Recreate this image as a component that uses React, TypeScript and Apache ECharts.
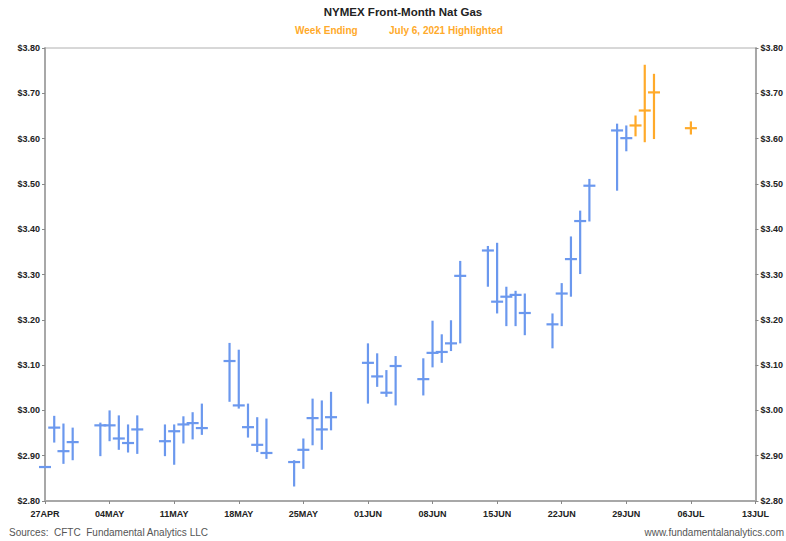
import React, { useEffect, useRef } from "react";
import * as echarts from "echarts";

const startDate = "2021-04-27";
const tickLabels = ["27APR", "04MAY", "11MAY", "18MAY", "25MAY", "01JUN", "08JUN", "15JUN", "22JUN", "29JUN", "06JUL", "13JUL"];
const yTicks = [2.8, 2.9, 3.0, 3.1, 3.2, 3.3, 3.4, 3.5, 3.6, 3.7, 3.8];

const dates = [
  "2021-04-27", "2021-04-28", "2021-04-29", "2021-04-30",
  "2021-05-03", "2021-05-04", "2021-05-05", "2021-05-06", "2021-05-07",
  "2021-05-10", "2021-05-11", "2021-05-12", "2021-05-13", "2021-05-14",
  "2021-05-17", "2021-05-18", "2021-05-19", "2021-05-20", "2021-05-21",
  "2021-05-24", "2021-05-25", "2021-05-26", "2021-05-27", "2021-05-28",
  "2021-06-01", "2021-06-02", "2021-06-03", "2021-06-04",
  "2021-06-07", "2021-06-08", "2021-06-09", "2021-06-10", "2021-06-11",
  "2021-06-14", "2021-06-15", "2021-06-16", "2021-06-17", "2021-06-18",
  "2021-06-21", "2021-06-22", "2021-06-23", "2021-06-24", "2021-06-25",
  "2021-06-28", "2021-06-29",
  "2021-06-30", "2021-07-01", "2021-07-02", "2021-07-06",
];
const highs = [
  2.875, 2.988, 2.971, 2.962,
  2.973, 3.0, 2.989, 2.969, 2.989,
  2.969, 2.969, 2.987, 2.996, 3.015,
  3.149, 3.134, 3.015, 2.985, 2.982,
  2.89, 2.938, 3.026, 3.022, 3.041,
  3.148, 3.126, 3.089, 3.12,
  3.115, 3.198, 3.168, 3.199, 3.33,
  3.363, 3.37, 3.273, 3.264, 3.258,
  3.214, 3.281, 3.384, 3.441, 3.511,
  3.633, 3.629,
  3.651, 3.763, 3.743, 3.638,
];
const lows = [
  2.875, 2.929, 2.882, 2.89,
  2.899, 2.932, 2.913, 2.907, 2.904,
  2.899, 2.88, 2.927, 2.936, 2.946,
  3.019, 3.004, 2.94, 2.908, 2.893,
  2.832, 2.871, 2.923, 2.913, 2.956,
  3.015, 3.052, 3.03, 3.011,
  3.033, 3.095, 3.105, 3.131, 3.148,
  3.273, 3.214, 3.186, 3.186, 3.166,
  3.137, 3.186, 3.251, 3.301, 3.417,
  3.485, 3.572,
  3.605, 3.592, 3.599, 3.609,
];
const closes = [
  2.875, 2.962, 2.91, 2.93,
  2.967, 2.967, 2.938, 2.928, 2.958,
  2.932, 2.954, 2.969, 2.972, 2.961,
  3.109, 3.011, 2.963, 2.924, 2.906,
  2.886, 2.913, 2.983, 2.958, 2.985,
  3.105, 3.075, 3.039, 3.098,
  3.069, 3.127, 3.129, 3.148, 3.297,
  3.353, 3.24, 3.251, 3.255, 3.215,
  3.19, 3.258, 3.334, 3.418, 3.496,
  3.618, 3.601,
  3.629, 3.662, 3.702, 3.623,
];
const highlighted = ["2021-06-30", "2021-07-01", "2021-07-02", "2021-07-06"];

const BLUE = "#6b98ee";
const ORANGE = "#FFAA2A";
const FONT = "Liberation Sans, Arial, sans-serif";

function dayOffset(d: string): number {
  return Math.round((Date.parse(d) - Date.parse(startDate)) / 86400000);
}

export default function App() {
  const ref = useRef<HTMLDivElement>(null);
  useEffect(() => {
    document.body.style.margin = "0";
    if (!ref.current) return;
    const chart = echarts.init(ref.current, null, { renderer: "svg" });

    const blueData: number[][] = [];
    const orangeData: number[][] = [];
    dates.forEach((d, i) => {
      const row = [dayOffset(d), highs[i], lows[i], closes[i]];
      if (highlighted.includes(d)) orangeData.push(row);
      else blueData.push(row);
    });

    const makeRender = (color: string) => (params: any, api: any) => {
      const x = api.value(0);
      const hi = api.coord([x, api.value(1)]);
      const lo = api.coord([x, api.value(2)]);
      const cl = api.coord([x, api.value(3)]);
      const style = { stroke: color, lineWidth: 2.2 };
      const children: any[] = [];
      if (Math.abs(lo[1] - hi[1]) > 0.5) {
        children.push({ type: "line", shape: { x1: hi[0], y1: hi[1], x2: lo[0], y2: lo[1] }, style });
      }
      children.push({ type: "line", shape: { x1: cl[0] - 6, y1: cl[1], x2: cl[0] + 6, y2: cl[1] }, style });
      return { type: "group", children };
    };

    const axisLine = { show: true, lineStyle: { color: "#a8a8a8", width: 2 } };
    const labelStyle = { color: "#222", fontSize: 9, fontWeight: "bold" as const, fontFamily: FONT };

    const yAxisBase = {
      type: "value",
      min: 2.8,
      max: 3.8,
      interval: 0.1,
      axisLine,
      axisTick: { show: true, length: 3, lineStyle: { color: "#888" } },
      splitLine: { show: false },
      axisLabel: {
        ...labelStyle,
        margin: 5,
        formatter: (v: number) => {
          const t = yTicks.find((y) => Math.abs(y - v) < 1e-6);
          return "$" + (t !== undefined ? t : v).toFixed(2);
        },
      },
    };

    chart.setOption({
      animation: false,
      title: {
        text: "NYMEX Front-Month Nat Gas",
        left: 398,
        textAlign: "center",
        top: 1,
        textStyle: { fontSize: 11.5, fontWeight: "bold", color: "#222", fontFamily: FONT },
      },
      grid: {
        left: 45,
        right: 28,
        top: 48,
        bottom: 40,
        show: true,
        borderColor: "#b0b0b0",
        borderWidth: 1,
      },
      xAxis: {
        type: "value",
        min: 0,
        max: 77,
        interval: 7,
        axisLine,
        axisTick: { show: true, length: 3, lineStyle: { color: "#888" } },
        splitLine: { show: false },
        axisLabel: {
          ...labelStyle,
          margin: 8,
          formatter: (v: number) => tickLabels[Math.round(v / 7)] ?? "",
        },
      },
      yAxis: [
        { ...yAxisBase, position: "left" },
        { ...yAxisBase, position: "right" },
      ],
      series: [
        {
          type: "custom",
          renderItem: makeRender(BLUE),
          data: blueData,
          encode: { x: 0, y: [1, 2, 3] },
          clip: false,
          z: 5,
        },
        {
          type: "custom",
          renderItem: makeRender(ORANGE),
          data: orangeData,
          encode: { x: 0, y: [1, 2, 3] },
          clip: false,
          z: 5,
        },
      ],
      graphic: [
        {
          type: "text",
          left: 295,
          top: 25,
          style: { text: "Week Ending", fill: ORANGE, fontSize: 10, fontWeight: "bold", fontFamily: FONT },
        },
        {
          type: "text",
          left: 389,
          top: 25,
          style: { text: "July 6, 2021 Highlighted", fill: ORANGE, fontSize: 10, fontWeight: "bold", fontFamily: FONT },
        },
        {
          type: "text",
          left: 9,
          top: 527,
          style: { text: "Sources:  CFTC  Fundamental Analytics LLC", fill: "#555", fontSize: 10, fontFamily: FONT },
        },
        {
          type: "text",
          right: 2,
          top: 527,
          style: { text: "www.fundamentalanalytics.com", fill: "#555", fontSize: 10, fontFamily: FONT },
        },
      ],
    });
    return () => chart.dispose();
  }, []);
  return <div ref={ref} style={{ width: 786, height: 541 }} />;
}
